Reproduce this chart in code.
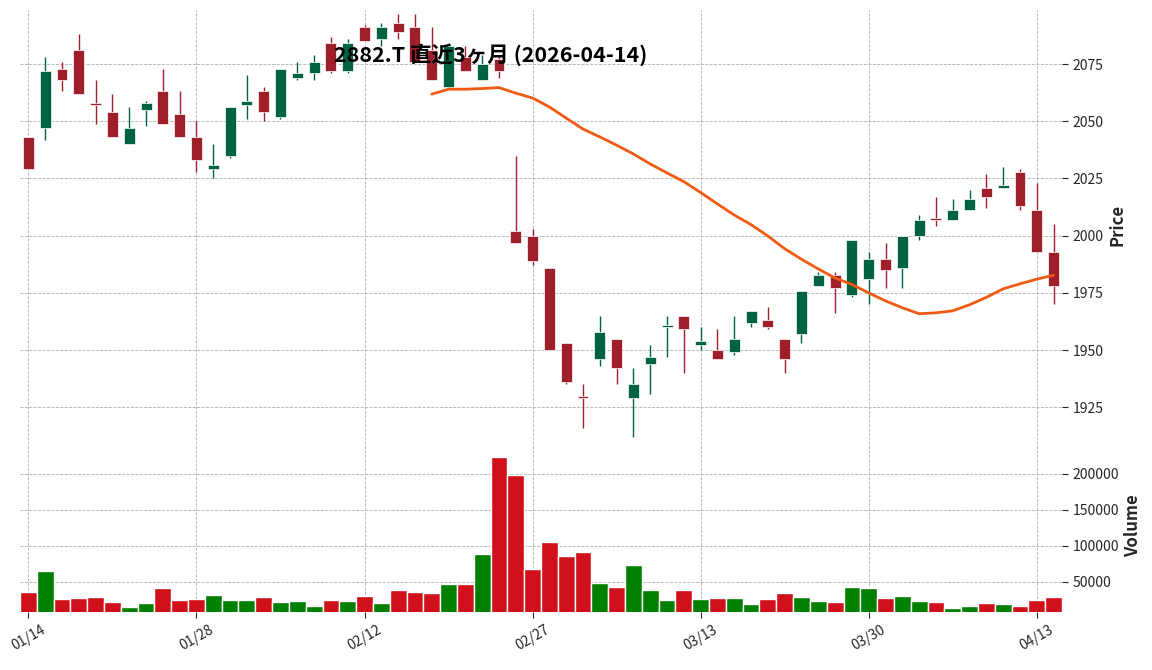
import numpy as np, pandas as pd, matplotlib
matplotlib.use("Agg")
import matplotlib.pyplot as plt, seaborn as sns

dates = ["01/14","01/15","01/16","01/19","01/20","01/21","01/22","01/23","01/26","01/27","01/28",
"01/29","01/30","02/02","02/03","02/04","02/05","02/06","02/09","02/10","02/12",
"02/13","02/16","02/17","02/18","02/19","02/20","02/24","02/25","02/26","02/27",
"03/02","03/03","03/04","03/05","03/06","03/09","03/10","03/11","03/12","03/13",
"03/16","03/17","03/18","03/19","03/23","03/24","03/25","03/26","03/27","03/30",
"03/31","04/01","04/02","04/03","04/06","04/07","04/08","04/09","04/10","04/13","04/14"]
opens = [2043,2047,2073,2081,2058,2054,2040,2055,2063,2053,2043,2029,2035,2057,2063,2052,2069,2071,2084,2072,
2091,2086,2093,2091,2081,2065,2078,2068,2077,2002,2000,1986,1953,1930,1946,1955,1929,1944,1960,1965,
1952,1950,1949,1962,1963,1955,1957,1978,1983,1974,1981,1990,1986,2000,2007.2,2007,2011,2021,2021,2028,2011,1993]
highs = [2043,2078,2076,2088,2068,2062,2056,2059,2073,2063,2050,2040,2056,2070,2065,2073,2076,2079,2087,2086,
2092,2093,2097,2097,2091,2084,2083,2079,2078,2035,2003,1986,1953,1935,1965,1955,1942,1952,1965,1965,
1960,1959,1965,1967,1969,1955,1976,1984,1984,1998,1993,1997,2000,2009,2017,2016,2020,2027,2030,2029,2023,2005]
lows = [2029,2042,2063,2062,2049,2043,2040,2048,2049,2043,2028,2025,2034,2051,2050,2051,2068,2068,2071,2071,
2085,2083,2086,2076,2068,2065,2072,2068,2069,1997,1987,1950,1935,1916,1943,1935,1912,1931,1947,1940,
1950,1946,1948,1960,1959,1940,1953,1978,1966,1973,1970,1977,1977,1998,2004,2007,2011,2012,2021,2011,1993,1970]
closes = [2029,2072,2068,2062,2057,2043,2047,2058,2049,2043,2033,2031,2056,2059,2054,2073,2071,2076,2072,2084,
2085,2091,2089,2076,2068,2083,2072,2075,2072,1997,1989,1950,1936,1929,1958,1942,1935,1947,1961,1959,
1954,1946,1955,1967,1960,1946,1976,1983,1977,1998,1990,1985,2000,2007,2006.8,2011,2016,2017,2022,2013,1993,1978]
volumes = [36000,65000,26000,28000,29000,22000,15000,21000,42000,25000,26000,32000,25000,25000,29000,22000,24000,17000,25000,23000,
31000,21000,39000,36000,35000,47000,47000,89000,223000,199000,68000,105000,86000,92000,48000,43000,74000,39000,25000,39000,
26000,28000,28000,19000,26000,35000,29000,24000,22000,43000,42000,28000,31000,24000,22000,14000,17000,21000,20000,17000,25000,29000]

df = pd.DataFrame({"d":dates,"o":opens,"h":highs,"l":lows,"c":closes,"v":volumes})
df["x"] = np.arange(len(df))
df["ma"] = df["c"].rolling(25).mean()
up = df["c"] >= df["o"]

sns.set_style("white")
plt.rcParams['font.family'] = ['Noto Sans CJK JP', 'DejaVu Sans']
fig = plt.figure(figsize=(11.52, 6.7), dpi=100)
ax = fig.add_axes([20/1152, 1-440/670, 1042/1152, 430/670])
axv = fig.add_axes([20/1152, 1-612/670, 1042/1152, 172/670], sharex=ax)

cu, cd = "#006340", "#9e1f2a"
cols = np.where(up, cu, cd)
ax.vlines(df["x"], df["l"], df["h"], colors=cols, lw=1, zorder=2)
body_lo = np.minimum(df["o"], df["c"]); body_h = np.maximum(np.abs(df["c"]-df["o"]), 0.8)
ax.bar(df["x"], body_h, bottom=body_lo, width=0.65, color=cols, edgecolor="white", linewidth=0.5, zorder=3)
sns.lineplot(data=df, x="x", y="ma", ax=ax, color="#f05a12", lw=2, zorder=4)

vcols = np.where(up, "#007f00", "#d0101a")
axv.bar(df["x"], df["v"], width=1.0, color=vcols, zorder=2)

for a in (ax, axv):
    a.yaxis.tick_right(); a.yaxis.set_label_position("right")
    a.grid(True, ls="--", lw=0.6, color="#b0b0b0")
    for s in a.spines.values(): s.set_visible(False)
    a.tick_params(axis="y", labelsize=10, length=4, right=True)
ax.set_xlim(-0.5, 61.5)
ax.set_ylim(1910.7, 2098.6)
ax.set_yticks([1925,1950,1975,2000,2025,2050,2075])
axv.set_ylim(8300, 247000)
axv.set_yticks([50000,100000,150000,200000])
ax.set_ylabel("Price", fontsize=12, fontweight="bold"); ax.set_xlabel("")
axv.set_ylabel("Volume", fontsize=12, fontweight="bold")
ax.tick_params(axis="x", labelbottom=False, length=0)
ticks = [0,10,20,30,40,50,60]
axv.set_xticks(ticks)
axv.set_xticklabels([dates[i] for i in ticks], rotation=30, fontsize=10)
axv.tick_params(axis="x", length=4, bottom=True)
fig.text(491/1152, 1-55/670, "2882.T 直近3ヶ月 (2026-04-14)", ha="center", va="center",
         fontsize=15.5, fontweight="bold", color="black")
fig.savefig("out.png", dpi=100)
